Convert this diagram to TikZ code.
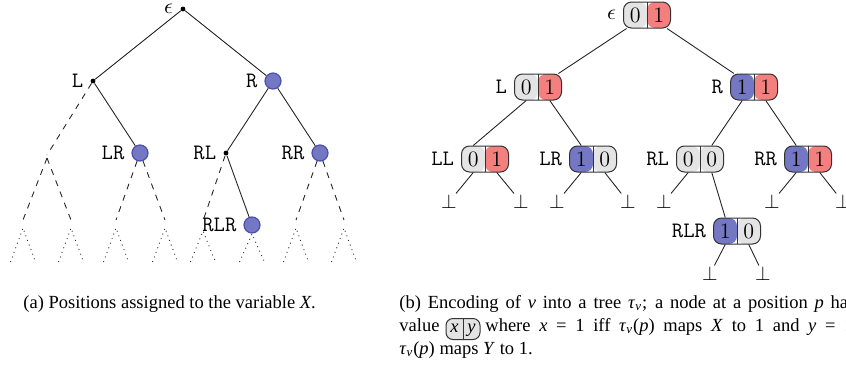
\documentclass[tikz,border=0pt]{standalone}
\usepackage{fontspec}
\newfontfamily\capfont{Liberation Serif}
\usetikzlibrary{calc}
\definecolor{myblue}{HTML}{7478C4}
\definecolor{myblueborder}{HTML}{4B51A9}
\definecolor{myred}{HTML}{F47F7F}
\definecolor{mygray}{HTML}{E4E4E4}
\tikzset{
  dotnode/.style={circle, fill=black, inner sep=0pt, minimum size=2.4pt},
  bluenode/.style={circle, fill=myblue, draw=myblueborder, line width=0.6pt, inner sep=0pt, minimum size=8pt},
  treelbl/.style={font=\fontsize{11}{13}\selectfont\ttfamily},
  edge/.style={draw=black!85, line width=0.45pt},
  dashededge/.style={edge, dashed},
  dottededge/.style={edge, dotted},
  pairbox/.style={draw=black!80, line width=0.5pt, rounded corners=4pt, minimum width=23.5pt, minimum height=13pt, inner sep=0pt},
  smallbox/.style={draw=black!80, line width=0.5pt, rounded corners=3.5pt, minimum width=17pt, minimum height=10.5pt, inner sep=0pt},
  digit/.style={font=\fontsize{11}{13}\selectfont, inner sep=0pt},
  botnode/.style={font=\fontsize{10}{12}\selectfont, inner sep=0.6pt},
  captext/.style={font=\capfont\fontsize{9.25}{11.5}\selectfont, inner sep=0pt, anchor=base west},
}
% name, position, x-digit, y-digit, x-colour, y-colour, label
\newcommand\pairnode[7]{%
  \node[pairbox, label={[treelbl]left:#7}, path picture={%
      \fill[#5] (path picture bounding box.south west) rectangle (path picture bounding box.north);
      \fill[#6] (path picture bounding box.south) rectangle (path picture bounding box.north east);
      \draw[black!80, line width=0.5pt] (path picture bounding box.south) -- (path picture bounding box.north);}]
    (#1) at #2 {};
  \node[digit] (#1-x) at ([xshift=-5.875pt]#1.center) {#3};
  \node[digit] (#1-y) at ([xshift=5.875pt]#1.center) {#4};
  \coordinate (#1-ls) at ([xshift=-5.875pt]#1.south);
  \coordinate (#1-rs) at ([xshift=5.875pt]#1.south);
  \coordinate (#1-ln) at ([xshift=-5.875pt]#1.north);
  \coordinate (#1-rn) at ([xshift=5.875pt]#1.north);
}
\begin{document}
\begin{tikzpicture}[x=0.5pt, y=-0.5pt]
\useasboundingbox (0,0) rectangle (846,365);

% ---------------- left tree ----------------
\node[dotnode, label={[treelbl]left:$\epsilon$}] (a-e) at (183,9) {};
\node[dotnode, label={[treelbl]left:L}] (a-L) at (93,81) {};
\node[bluenode, label={[treelbl]left:R}] (a-R) at (273,81) {};
\coordinate (a-LL) at (47,155);
\coordinate (a-LLs) at (47,158);
\node[bluenode, label={[treelbl]left:LR}] (a-LR) at (140,153) {};
\node[dotnode, label={[treelbl]left:RL}] (a-RL) at (226,153) {};
\node[bluenode, label={[treelbl]left:RR}] (a-RR) at (320,153) {};
\node[bluenode, label={[treelbl]left:RLR}] (a-RLR) at (252,225) {};

\foreach \n/\x in {LLL/23, LLR/71, LRL/116, LRR/165, RRL/296, RRR/344}
  \coordinate (a-\n) at (\x,220);
\coordinate (a-RLL) at (204,218);

\draw[edge] (a-e) -- (a-L);
\draw[edge] (a-e) -- (a-R);
\draw[edge] (a-L) -- (a-LR);
\draw[edge] (a-R) -- (a-RL);
\draw[edge] (a-R) -- (a-RR);
\draw[edge] (a-RL) -- (a-RLR);
\draw[dashededge] (a-L) -- (a-LL);
\draw[dashededge] (a-LLs) -- (a-LLL);
\draw[dashededge] (a-LLs) -- (a-LLR);
\draw[dashededge] (a-LR) -- (a-LRL);
\draw[dashededge] (a-LR) -- (a-LRR);
\draw[dashededge] (a-RL) -- (a-RLL);
\draw[dashededge] (a-RR) -- (a-RRL);
\draw[dashededge] (a-RR) -- (a-RRR);

\foreach \n/\x/\y in {LLL/23/228, LLR/71/228, LRL/116/228, LRR/165/228, RLL/203/231, RLR/252/234, RRL/296/228, RRR/344/228} {
  \coordinate (a-\n-t) at (\x,\y);
  \coordinate (a-\n-bl) at (\x-12.5,262);
  \coordinate (a-\n-br) at (\x+12.5,262);
  \draw[dottededge] (a-\n-bl) -- (a-\n-t) -- (a-\n-br);
}

% ---------------- right tree ----------------
\pairnode{b-e}{(647,15)}{0}{1}{mygray}{myred}{$\epsilon$}
\pairnode{b-L}{(538,87)}{0}{1}{mygray}{myred}{L}
\pairnode{b-R}{(754,87)}{1}{1}{myblue}{myred}{R}
\pairnode{b-LL}{(485,159)}{0}{1}{mygray}{myred}{LL}
\pairnode{b-LR}{(593,159)}{1}{0}{myblue}{mygray}{LR}
\pairnode{b-RL}{(700,159)}{0}{0}{mygray}{mygray}{RL}
\pairnode{b-RR}{(808,159)}{1}{1}{myblue}{myred}{RR}
\pairnode{b-RLR}{(737,231)}{1}{0}{myblue}{mygray}{RLR}

\draw[edge] (b-e) -- (b-L);
\draw[edge] (b-e) -- (b-R);
\draw[edge] (b-L-ls) -- (b-LL-ln);
\draw[edge] (b-L-rs) -- (b-LR-ln);
\draw[edge] (b-R-ls) -- (b-RL-rn);
\draw[edge] (b-R-rs) -- (b-RR-ln);
\draw[edge] (b-RL-rs) -- (b-RLR-ln);

\node[botnode] (b-LL-0) at (449,202) {$\bot$};
\node[botnode] (b-LL-1) at (521,202) {$\bot$};
\node[botnode] (b-LR-0) at (557,202) {$\bot$};
\node[botnode] (b-LR-1) at (628,202) {$\bot$};
\node[botnode] (b-RL-0) at (664,202) {$\bot$};
\node[botnode] (b-RR-0) at (772,202) {$\bot$};
\node[botnode] (b-RR-1) at (843,202) {$\bot$};
\node[botnode] (b-RLR-0) at (710,274) {$\bot$};
\node[botnode] (b-RLR-1) at (763,274) {$\bot$};

\draw[edge] (b-LL-ls) -- (b-LL-0);
\draw[edge] (b-LL-rs) -- (b-LL-1);
\draw[edge] (b-LR-ls) -- (b-LR-0);
\draw[edge] (b-LR-rs) -- (b-LR-1);
\draw[edge] (b-RL-ls) -- (b-RL-0);
\draw[edge] (b-RR-ls) -- (b-RR-0);
\draw[edge] (b-RR-rs) -- (b-RR-1);
\draw[edge] (b-RLR-ls) -- (b-RLR-0);
\draw[edge] (b-RLR-rs) -- (b-RLR-1);

% ---------------- captions ----------------
\node[captext] (capa) at (23,308) {(a) Positions assigned to the variable \textit{X}.};
\node[captext] (capb1) at (399,308) {\hbox to 228pt{(b) Encoding of \textit{ν} into a tree \textit{τ}\textsubscript{\textit{ν}}; a node at a position \textit{p} has}};
\node[captext] (capb2a) at (399,331) {value};
\node[smallbox, path picture={%
    \fill[mygray] (path picture bounding box.south west) rectangle (path picture bounding box.north east);
    \draw[black!80, line width=0.5pt] (path picture bounding box.south) -- (path picture bounding box.north);}]
  (capbox) at (463,329) {};
\node[font=\capfont\fontsize{9.25}{11.5}\selectfont\itshape, inner sep=0pt, anchor=base] (capbox-x) at ([xshift=-4.25pt]capbox.center |- 0,332) {x};
\node[font=\capfont\fontsize{9.25}{11.5}\selectfont\itshape, inner sep=0pt, anchor=base] (capbox-y) at ([xshift=4.25pt]capbox.center |- 0,332) {y};
\node[captext] (capb2b) at (485,331) {\hbox to 197pt{where \textit{x} = 1 iff \textit{τ}\textsubscript{\textit{ν}}(\textit{p}) maps \textit{X} to 1 and \textit{y} = 1 iff}};
\node[captext] (capb3) at (399,354) {\textit{τ}\textsubscript{\textit{ν}}(\textit{p}) maps \textit{Y} to 1.};
\end{tikzpicture}
\end{document}
